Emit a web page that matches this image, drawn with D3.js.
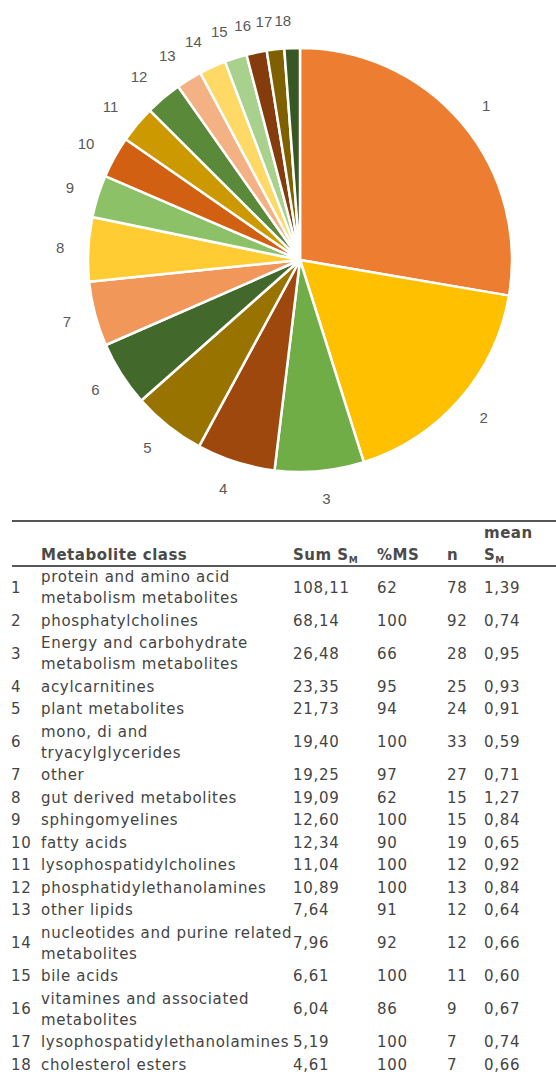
<!DOCTYPE html>
<html>
<head>
<meta charset="utf-8">
<script src="https://cdn.jsdelivr.net/npm/d3@7"></script>
<style>
  body { margin: 0; background: #fff; }
  svg { display: block; }
</style>
</head>
<body>
<svg id="chart"></svg>
<script>
// table / pie data
var classIds = [1, 2, 3, 4, 5, 6, 7, 8, 9, 10, 11, 12, 13, 14, 15, 16, 17, 18];
var classNames = [
  ["protein and amino acid", "metabolism metabolites"],
  ["phosphatylcholines"],
  ["Energy and carbohydrate", "metabolism metabolites"],
  ["acylcarnitines"],
  ["plant metabolites"],
  ["mono, di and", "tryacylglycerides"],
  ["other"],
  ["gut derived metabolites"],
  ["sphingomyelines"],
  ["fatty acids"],
  ["lysophospatidylcholines"],
  ["phosphatidylethanolamines"],
  ["other lipids"],
  ["nucleotides and purine related", "metabolites"],
  ["bile acids"],
  ["vitamines and associated", "metabolites"],
  ["lysophospatidylethanolamines"],
  ["cholesterol esters"]
];
var sumS = [108.11, 68.14, 26.48, 23.35, 21.73, 19.40, 19.25, 19.09, 12.60, 12.34, 11.04, 10.89, 7.64, 7.96, 6.61, 6.04, 5.19, 4.61];
var pctMS = [62, 100, 66, 95, 94, 100, 97, 62, 100, 90, 100, 100, 91, 92, 100, 86, 100, 100];
var nCount = [78, 92, 28, 25, 24, 33, 27, 15, 15, 19, 12, 13, 12, 12, 11, 9, 7, 7];
var meanS = [1.39, 0.74, 0.95, 0.93, 0.91, 0.59, 0.71, 1.27, 0.84, 0.65, 0.92, 0.84, 0.64, 0.66, 0.60, 0.67, 0.74, 0.66];

var sliceColors = ["#ED7D31", "#FFC000", "#70AD47", "#9E480E", "#997300", "#43682B",
                   "#F1975A", "#FFCD33", "#8CC168", "#D26012", "#CC9A00", "#5A8A39",
                   "#F4B183", "#FFD966", "#A9D18E", "#843C0C", "#7F6000", "#385723"];

var screen = { width: 556, height: 1077 };

var svg = d3.select("#chart")
            .attr("width", screen.width)
            .attr("height", screen.height);

//---- pie ----
var pieCenter = { x: 300, y: 260 };
var radius = 212;
var labelRadius = 240;

var pie = d3.pie().sort(null).value(function(d) { return d; });
var arc = d3.arc().innerRadius(0).outerRadius(radius);
var labelArc = d3.arc().innerRadius(labelRadius).outerRadius(labelRadius);

var color = d3.scaleOrdinal().domain(classIds).range(sliceColors);

var pieG = svg.append("g")
              .attr("transform", "translate(" + pieCenter.x + "," + pieCenter.y + ")");

var slices = pie(sumS);

pieG.selectAll("path")
    .data(slices)
    .enter()
    .append("path")
    .attr("d", arc)
    .attr("fill", function(d, i) { return color(classIds[i]); })
    .attr("stroke", "#fff")
    .attr("stroke-width", 2.5)
    .attr("stroke-linejoin", "round");

var labels = pieG.selectAll("text.sliceLabel")
                 .data(slices)
                 .enter()
                 .append("text")
                 .classed("sliceLabel", true)
                 .attr("text-anchor", "middle")
                 .attr("dominant-baseline", "central")
                 .style("font-family", "'Liberation Sans', Arial, sans-serif")
                 .style("font-size", "15px")
                 .attr("fill", "#595959")
                 .text(function(d, i) { return classIds[i]; });

// push labels outward a bit, by half their width (like the office labels do)
labels.each(function(d) {
  var c = labelArc.centroid(d);
  var a = (d.startAngle + d.endAngle) / 2;
  var w = this.getComputedTextLength();
  var shift = (Math.sin(a) >= 0 ? 1 : -1) * (w / 2) * Math.abs(Math.cos(a));
  d3.select(this).attr("x", c[0] + shift).attr("y", c[1]);
});

//---- table ----
var cols = { id: 11, name: 41, sum: 293, pct: 377, n: 447, mean: 484 };
var tableTop = 521;
var headerBottom = 566;
var lineHeight = 21;
var rowPad = 1.5;

var fmt = function(v) { return d3.format(".2f")(v).replace(".", ","); };

var textFont = "'DejaVu Sans', Verdana, sans-serif";
var textColor = "#444";

var table = svg.append("g").classed("table", true);

table.append("line")
     .attr("x1", 12).attr("x2", screen.width)
     .attr("y1", tableTop).attr("y2", tableTop)
     .attr("stroke", "#555").attr("stroke-width", 2);

table.append("line")
     .attr("x1", 12).attr("x2", screen.width)
     .attr("y1", headerBottom).attr("y2", headerBottom)
     .attr("stroke", "#222").attr("stroke-width", 1.5);

// header
var header = table.append("g")
                  .style("font-family", textFont)
                  .style("font-size", "15px")
                  .style("font-weight", "bold")
                  .style("letter-spacing", "0.5px")
                  .attr("fill", "#4a4a4a");

header.append("text").attr("x", cols.name).attr("y", 560).text("Metabolite class");

var sumHead = header.append("text").attr("x", cols.sum).attr("y", 560);
sumHead.append("tspan").text("Sum S");
sumHead.append("tspan").attr("dy", 3).style("font-size", "9px").text("M");

header.append("text").attr("x", cols.pct).attr("y", 560).text("%MS");
header.append("text").attr("x", cols.n).attr("y", 560).text("n");
header.append("text").attr("x", cols.mean).attr("y", 538).text("mean");

var meanHead = header.append("text").attr("x", cols.mean).attr("y", 560);
meanHead.append("tspan").text("S");
meanHead.append("tspan").attr("dy", 3).style("font-size", "9px").text("M");

// rows
var rowTops = [];
var acc = headerBottom;
classNames.forEach(function(lines) {
  rowTops.push(acc);
  acc += lines.length * lineHeight + rowPad;
});

var rows = table.selectAll("g.row")
                .data(classIds)
                .enter()
                .append("g")
                .classed("row", true)
                .attr("transform", function(d, i) {
                  var h = classNames[i].length * lineHeight + rowPad;
                  return "translate(0," + (rowTops[i] + h / 2) + ")";
                })
                .style("font-family", textFont)
                .style("font-size", "15px")
                .style("letter-spacing", "0.7px")
                .attr("fill", textColor);

rows.append("text").attr("x", cols.id).attr("y", 5)
    .text(function(d) { return d; });

rows.each(function(d, i) {
  var lines = classNames[i];
  var t = d3.select(this).append("text").attr("x", cols.name);
  lines.forEach(function(s, k) {
    t.append("tspan")
     .attr("x", cols.name)
     .attr("y", 5 + (k - (lines.length - 1) / 2) * lineHeight)
     .text(s);
  });
});

rows.append("text").attr("x", cols.sum).attr("y", 5)
    .text(function(d, i) { return fmt(sumS[i]); });
rows.append("text").attr("x", cols.pct).attr("y", 5)
    .text(function(d, i) { return pctMS[i]; });
rows.append("text").attr("x", cols.n).attr("y", 5)
    .text(function(d, i) { return nCount[i]; });
rows.append("text").attr("x", cols.mean).attr("y", 5)
    .text(function(d, i) { return fmt(meanS[i]); });
</script>
</body>
</html>
